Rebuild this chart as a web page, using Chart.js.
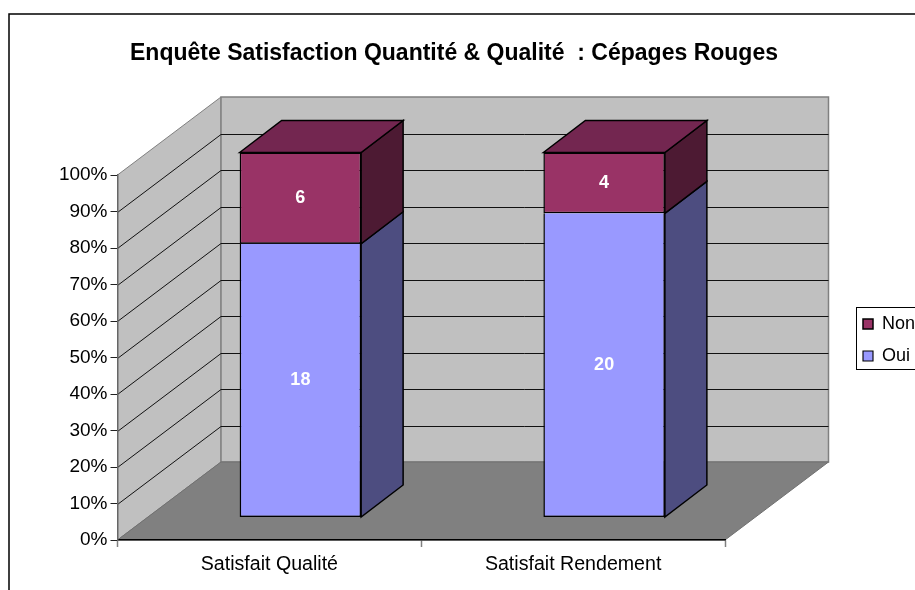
<!DOCTYPE html>
<html><head><meta charset="utf-8">
<style>html,body{margin:0;padding:0;background:#fff;overflow:hidden}#w{position:relative;width:915px;height:590px}</style>
<script src="https://cdn.jsdelivr.net/npm/chart.js@4"></script>
</head><body><div id="w"><canvas id="c" width="915" height="590"></canvas></div>
<script>
const titleText = "Enquête Satisfaction Quantité & Qualité  : Cépages Rouges";
const categories = ["Satisfait Qualité", "Satisfait Rendement"];
const oui = [18, 20];
const non = [6, 4];
const seriesNames = ["Oui", "Non"];
const yMax = 100, yStep = 10;

const FONT = '"Liberation Sans", Arial, sans-serif';
const total = oui.map((v, i) => v + non[i]);
const share = arr => arr.map((v, i) => v / total[i] * 100);

const WALL = {dx: 103.5, dy: -78};
const BAR = {dx: 31, dy: -22.5, depthX: 42, depthY: -32};

function poly(ctx, pts, fill, stroke, lw) {
  ctx.beginPath();
  pts.forEach((p, i) => i ? ctx.lineTo(p[0], p[1]) : ctx.moveTo(p[0], p[1]));
  ctx.closePath();
  if (fill) { ctx.fillStyle = fill; ctx.fill(); }
  if (stroke) { ctx.strokeStyle = stroke; ctx.lineWidth = lw; ctx.stroke(); }
}

const scene = {
  id: 'scene',
  afterLayout(chart) {
    const lg = chart.legend;
    const w = lg.right - lg.left, h = lg.bottom - lg.top;
    lg.left = 849; lg.right = 849 + w; lg.top = 301; lg.bottom = 301 + h;
    if (lg.adjustHitBoxes) lg.adjustHitBoxes();
    const t = chart.titleBlock;
    t.left = 0; t.right = 908; t.width = 908;
    const th = t.bottom - t.top; t.top = 40; t.bottom = 40 + th;
  },
  beforeDraw(chart) {
    const {ctx, chartArea: a, scales: {y}} = chart;
    const dx = WALL.dx, dy = WALL.dy;
    ctx.save();
    ctx.fillStyle = '#fff'; ctx.fillRect(0, 0, chart.width, chart.height);
    ctx.strokeStyle = '#000'; ctx.lineWidth = 1.5;
    ctx.strokeRect(9, 14, 1000, 1000);
    // legend frame
    ctx.lineWidth = 1; ctx.strokeStyle = '#000';
    ctx.strokeRect(856.5, 307.5, 100, 62);
    // walls
    poly(ctx, [[a.left, a.top], [a.left + dx, a.top + dy], [a.left + dx, a.bottom + dy], [a.left, a.bottom]], '#C0C0C0', '#808080', 1);
    poly(ctx, [[a.left + dx, a.top + dy], [a.right + dx, a.top + dy], [a.right + dx, a.bottom + dy], [a.left + dx, a.bottom + dy]], '#C0C0C0', '#808080', 1.5);
    // gridlines, from the y scale
    ctx.strokeStyle = '#111'; ctx.lineWidth = 1;
    y.ticks.forEach(t => {
      if (t.value <= 0 || t.value >= yMax) return;
      const py = Math.round(y.getPixelForValue(t.value)) + 0.5;
      ctx.beginPath();
      ctx.moveTo(a.left, py); ctx.lineTo(a.left + dx, py + dy); ctx.lineTo(a.right + dx, py + dy);
      ctx.stroke();
    });
    // floor
    poly(ctx, [[a.left, a.bottom], [a.left + dx, a.bottom + dy], [a.right + dx, a.bottom + dy], [a.right, a.bottom]], '#808080', '#707070', 1);
    ctx.restore();
  },
  beforeDatasetsDraw(chart) {
    const ctx = chart.ctx;
    ctx.save();
    ctx.translate(BAR.dx, BAR.dy);
    const dX = BAR.depthX, dY = BAR.depthY;
    const sideCol = ['#4D4D80', '#4D1A33'];
    const topCol = '#732650';
    chart.data.datasets.forEach((ds, di) => {
      chart.getDatasetMeta(di).data.forEach(b => {
        const r = b.x + b.width / 2, l = b.x - b.width / 2;
        poly(ctx, [[r, b.y], [r + dX, b.y + dY], [r + dX, b.base + dY], [r, b.base]], sideCol[di], '#000', 1.5);
        if (di === chart.data.datasets.length - 1)
          poly(ctx, [[l, b.y], [l + dX, b.y + dY], [r + dX, b.y + dY], [r, b.y]], topCol, '#000', 1.5);
      });
    });
  },
  afterDatasetsDraw(chart) {
    const ctx = chart.ctx;
    ctx.font = 'bold 18px ' + FONT;
    ctx.fillStyle = '#fff';
    ctx.textAlign = 'center'; ctx.textBaseline = 'middle';
    const raw = [oui, non];
    chart.data.datasets.forEach((ds, di) => {
      chart.getDatasetMeta(di).data.forEach((b, i) => {
        ctx.fillText(String(raw[di][i]), b.x, (b.y + b.base) / 2);
      });
    });
    ctx.restore();
  }
};

new Chart(document.getElementById('c'), {
  type: 'bar',
  data: {
    labels: categories,
    datasets: [
      {label: seriesNames[0], data: share(oui), backgroundColor: '#9999FF', borderColor: '#000',
       borderWidth: {top: 0, left: 1.5, right: 1.5, bottom: 1.5}, borderSkipped: false, clip: false},
      {label: seriesNames[1], data: share(non), backgroundColor: '#993366', borderColor: '#000',
       borderWidth: {top: 1.5, left: 1.5, right: 1.5, bottom: 1.5}, borderSkipped: false, clip: false}
    ]
  },
  options: {
    responsive: false, animation: false, devicePixelRatio: 1,
    layout: {padding: {left: 0, right: 190, top: 147.4, bottom: 0}},
    datasets: {bar: {barPercentage: 0.4, categoryPercentage: 1}},
    plugins: {
      tooltip: {enabled: false},
      title: {display: true, text: titleText, color: '#000', padding: 0,
        font: {family: FONT, size: 23, weight: 'bold'}},
      legend: {
        position: 'chartArea', align: 'start', reverse: true,
        labels: {boxWidth: 10, boxHeight: 10, padding: 14, color: '#000',
          font: {family: FONT, size: 18}}
      }
    },
    scales: {
      x: {
        stacked: true,
        afterFit(s) { s.height = 50; },
        border: {color: '#000', width: 1.5},
        grid: {drawOnChartArea: false, drawTicks: true, tickLength: 7, tickColor: '#808080', tickWidth: 1.5},
        ticks: {color: '#000', padding: 6, maxRotation: 0, font: {family: FONT, size: 19.6}}
      },
      y: {
        stacked: true, min: 0, max: yMax,
        afterFit(s) { s.width = 117.5; },
        border: {color: '#666', width: 1.5},
        grid: {drawOnChartArea: false, tickLength: 7, tickColor: '#222', tickWidth: 1},
        ticks: {stepSize: yStep, color: '#000', padding: 3, font: {family: FONT, size: 19},
          callback: v => v + '%'}
      }
    }
  },
  plugins: [scene]
});
</script></body></html>
